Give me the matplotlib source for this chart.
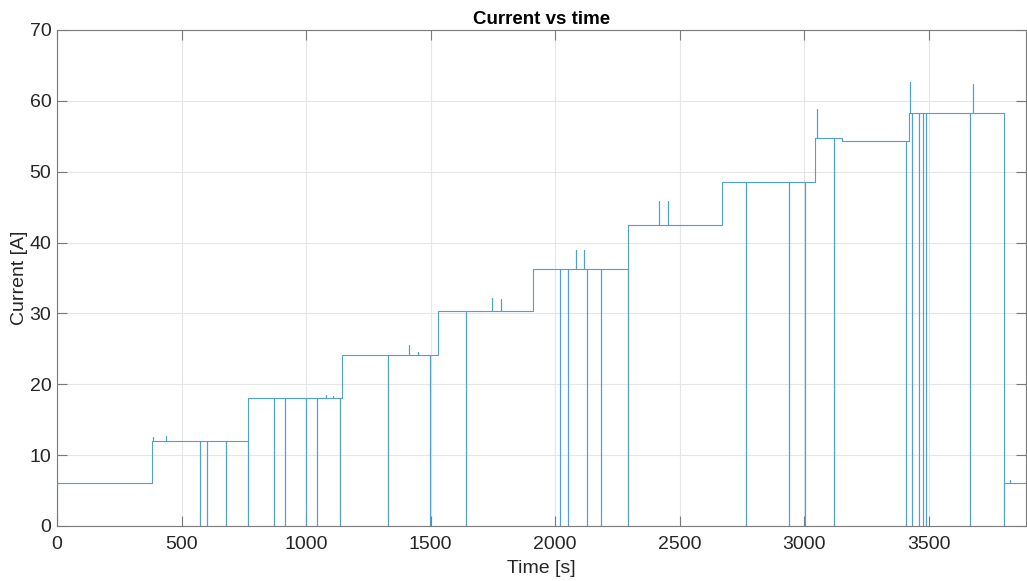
import matplotlib
matplotlib.use("Agg")
import matplotlib.pyplot as plt

# --- data ---
# current level held from each start time [s] on
seg_start = [0, 383, 765, 1143, 1531, 1911, 2293, 2668, 3044, 3150, 3422, 3801]
seg_level = [6.0, 12.0, 18.1, 24.2, 30.3, 36.3, 42.5, 48.5, 54.8, 54.4, 58.3, 6.0]

# instants where the current drops to zero
dip_times = [575, 602, 677, 765, 872, 915, 1001, 1043, 1138, 1327, 1498, 1643,
             2020, 2051, 2128, 2185, 2293, 2768, 2937, 3002, 3118, 3410, 3434,
             3461, 3475, 3488, 3666, 3801]

# short overshoot spikes
spike_times = [385, 436, 1079, 1109, 1413, 1449, 1747, 1782, 2083, 2116,
               2417, 2452, 3050, 3424, 3678, 3824]
spike_peaks = [12.5, 12.7, 18.5, 18.3, 25.6, 24.5, 32.2, 32.1, 39.0, 38.9,
               45.8, 45.8, 58.8, 62.6, 62.4, 6.5]

t_end = 3890

x_ticks = [0, 500, 1000, 1500, 2000, 2500, 3000, 3500]
y_ticks = [0, 10, 20, 30, 40, 50, 60, 70]


def level_before(t):
    lvl = 0.0
    for s, v in zip(seg_start, seg_level):
        if s < t:
            lvl = v
    return lvl


def level_at(t):
    lvl = 0.0
    for s, v in zip(seg_start, seg_level):
        if s <= t:
            lvl = v
    return lvl


# build the trace as a list of vertices
events = set(seg_start) | set(dip_times) | set(spike_times)
time_s, current_a = [0], [0.0]
for t in sorted(events):
    prev = level_before(t) if t > 0 else 0.0
    new = level_at(t)
    time_s.append(t); current_a.append(prev)
    if t in dip_times:
        time_s.append(t); current_a.append(0.0)
    if t in spike_times:
        time_s.append(t); current_a.append(spike_peaks[spike_times.index(t)])
    time_s.append(t); current_a.append(new)
time_s.append(t_end); current_a.append(level_at(t_end))

# --- figure ---
plt.rcParams['font.family'] = ['Liberation Sans', 'DejaVu Sans']
fig = plt.figure(figsize=(10.27, 5.81), dpi=100)
ax = fig.add_axes([0.0555, 0.0947, 0.9435, 0.8537])

ax.plot(time_s, current_a, color='#4f9fd8', linewidth=0.8)

ax.set_xlim(0, t_end)
ax.set_ylim(0, 70)
ax.set_xticks(x_ticks)
ax.set_yticks(y_ticks)
ax.grid(True, color='#e6e6e6', linewidth=0.8)
ax.set_axisbelow(True)

for sp in ax.spines.values():
    sp.set_color('#7a7a7a')
    sp.set_linewidth(0.8)
ax.tick_params(direction='in', length=7, width=0.8, color='#7a7a7a',
               top=True, right=True, labelsize=14, labelcolor='#262626')
ax.tick_params(axis='x', pad=7)
ax.tick_params(axis='y', pad=4)

ax.set_title('Current vs time', fontsize=13.5, fontweight='bold', pad=4)
ax.set_xlabel('Time [s]', fontsize=14, color='#262626', labelpad=5)
ax.set_ylabel('Current [A]', fontsize=14, color='#262626', labelpad=1)

fig.savefig('out.png', dpi=100)
